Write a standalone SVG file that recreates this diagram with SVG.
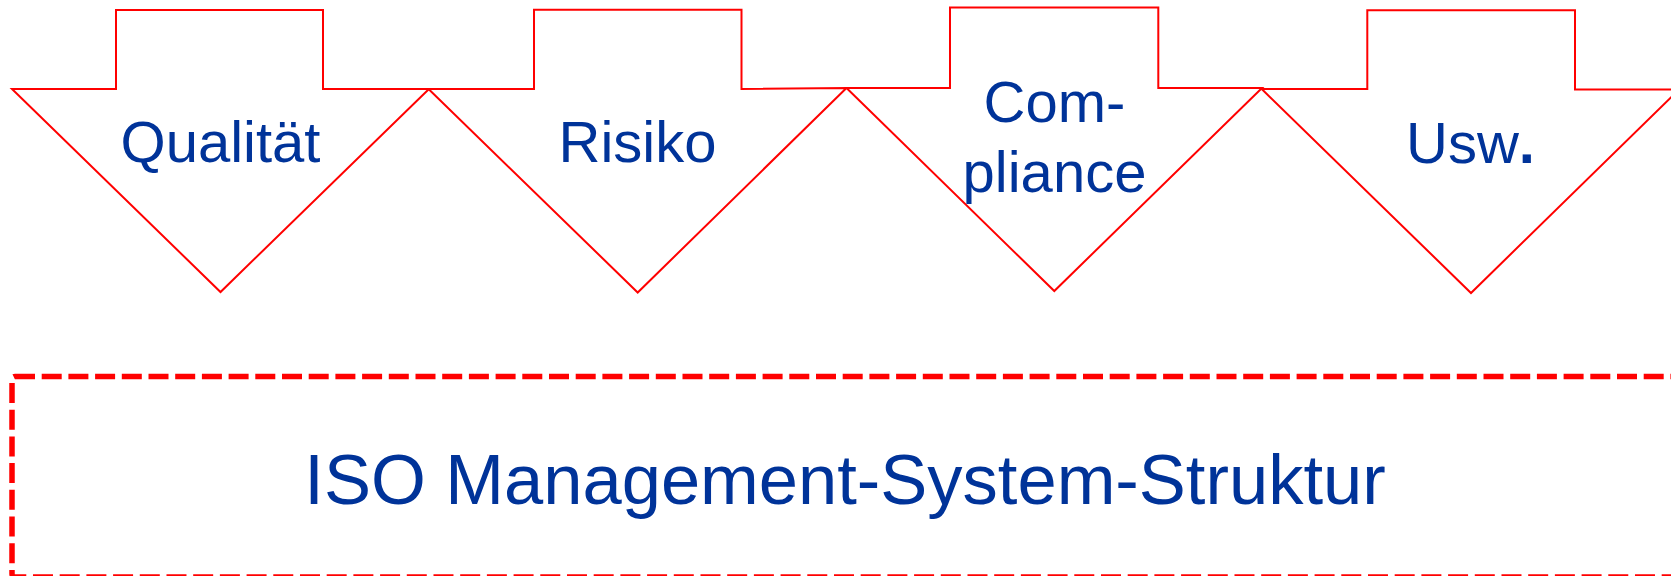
<svg xmlns="http://www.w3.org/2000/svg" width="1671" height="576" viewBox="0 0 1671 576">
  <style>
    .arrow { fill: #ffffff; stroke: #ff0000; stroke-width: 2; stroke-linejoin: miter; }
    .label { font-family: "Liberation Sans", Arial, sans-serif; fill: #003399; text-anchor: middle; }
    .frame { fill: none; stroke: #ff0000; stroke-width: 5.5; stroke-dasharray: 20 6.7; }
  </style>
  <rect width="1671" height="576" fill="#ffffff"/>

  <!-- downward block arrows -->
  <g id="arrow-qualitaet">
    <polygon class="arrow" points="12,89 116,89 116,10 323,10 323,89 429,89 220.5,292"/>
    <text class="label" x="220.5" y="162" font-size="58">Qualität</text>
  </g>
  <g id="arrow-risiko">
    <polygon class="arrow" points="428.5,89 534,89 534,9.7 741.5,9.7 741.5,89 846.5,88 637.7,292.5"/>
    <text class="label" x="637.5" y="162" font-size="58">Risiko</text>
  </g>
  <g id="arrow-compliance">
    <polygon class="arrow" points="846.5,88 950,88 950,7.5 1158.3,7.5 1158.3,88 1262,88 1054.3,291"/>
    <text class="label" x="1054.5" y="121.5" font-size="58">Com-</text>
    <text class="label" x="1054.5" y="191.5" font-size="58">pliance</text>
  </g>
  <g id="arrow-usw">
    <polygon class="arrow" points="1261.7,89 1367.3,89 1367.3,10.3 1575,10.3 1575,89.5 1679,89.5 1471,293"/>
    <text class="label" x="1470.5" y="163" font-size="58">Usw<tspan font-weight="bold">.</tspan></text>
  </g>

  <!-- dashed base frame -->
  <g id="iso-structure">
    <rect class="frame" x="12" y="376.5" width="1672" height="200.5" rx="3"/>
    <text class="label" x="845" y="504" font-size="70.5">ISO Management-System-Struktur</text>
  </g>

  <g id="connectors"/>
</svg>
